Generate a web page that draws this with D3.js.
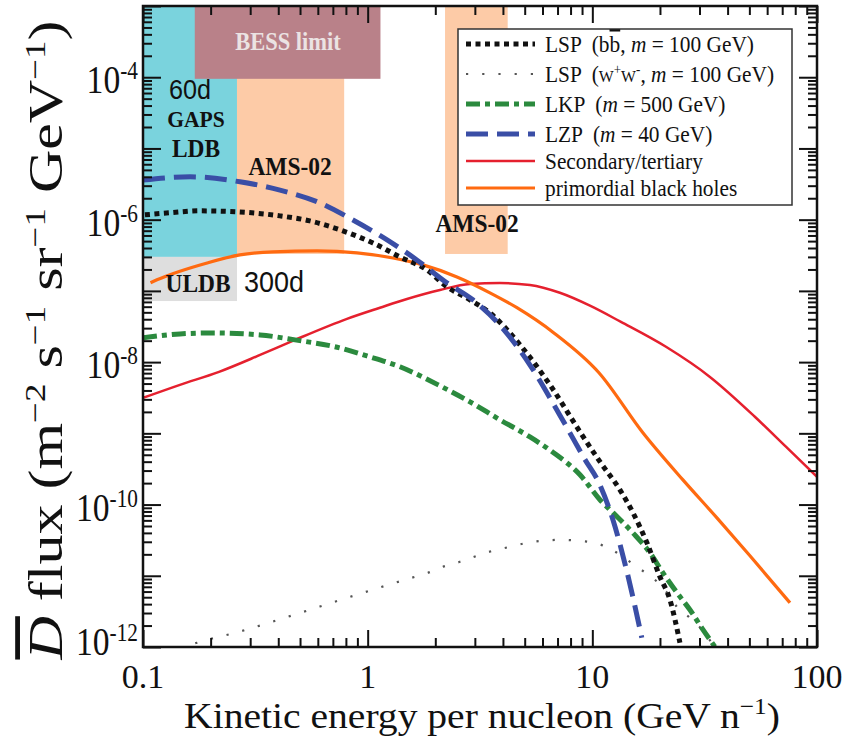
<!DOCTYPE html>
<html>
<head>
<meta charset="utf-8">
<script src="https://cdn.jsdelivr.net/npm/d3@7"></script>
<style>
  body { margin: 0; background: #fff; }
  text { font-family: "Liberation Serif", "Times New Roman", serif; fill: #111; }
  .sans { font-family: "Liberation Sans", Arial, sans-serif; }
</style>
</head>
<body>
<div id="chart-area"></div>
<script>

let margin = {top: 6, right: 39, bottom: 108, left: 143};
let width = 856 - margin.left - margin.right;
let height = 755 - margin.top - margin.bottom;

// kinetic energy per nucleon (GeV/n) and antideuteron flux
let lspBbE = [0.102, 0.132, 0.179, 0.262, 0.407, 0.553, 0.753, 1.056, 1.392, 1.836, 2.254, 2.853, 3.502, 4.762, 6.475, 8.81, 10.81, 13.27, 15.16, 17.5, 19.99, 22.15, 24.54];
let lspBbF = [1.17e-6, 1.25e-6, 1.33e-6, 1.29e-6, 1.13e-6, 9.6e-7, 7.2e-7, 4.7e-7, 3.0e-7, 1.97e-7, 1.14e-7, 7.5e-8, 4.9e-8, 1.75e-8, 4.8e-9, 1.05e-9, 4.0e-10, 1.61e-10, 7.7e-11, 2.9e-11, 9.7e-12, 4.6e-12, 1.15e-12];

let lspWwE = [0.146, 0.174, 0.27, 0.407, 0.613, 0.924, 1.574, 1.855, 2.163, 2.575, 3.065, 3.611, 4.298, 5.115, 6.028, 7.32, 8.63, 10.27, 12.22, 14.26, 16.28, 18.99, 21.48, 23.79, 27.19, 30.75, 34.42];
let lspWwF = [9.5e-13, 1.15e-12, 1.65e-12, 2.45e-12, 3.7e-12, 5.6e-12, 9.4e-12, 1.1e-11, 1.34e-11, 1.57e-11, 1.91e-11, 2.25e-11, 2.55e-11, 2.9e-11, 3.1e-11, 3.2e-11, 3.1e-11, 2.9e-11, 2.32e-11, 1.68e-11, 1.25e-11, 8.8e-12, 5.8e-12, 3.67e-12, 2.57e-12, 1.75e-12, 1.08e-12];

let lkpE = [0.1, 0.146, 0.209, 0.332, 0.475, 0.753, 0.993, 1.392, 2.141, 2.853, 3.879, 5.276, 6.745, 8.81, 10.81, 12.35, 15.16, 18.05, 20.62, 23.79, 27.19, 31.07, 35.13];
let lkpF = [2.19e-8, 2.49e-8, 2.57e-8, 2.41e-8, 2.05e-8, 1.58e-8, 1.22e-8, 8.6e-9, 4.5e-9, 2.77e-9, 1.55e-9, 8.9e-10, 5.3e-10, 2.62e-10, 1.17e-10, 7.7e-11, 4.0e-11, 2.1e-11, 1.1e-11, 5.8e-12, 3.33e-12, 1.75e-12, 1.01e-12];

let lzpE = [0.1, 0.162, 0.27, 0.407, 0.613, 0.86, 1.22, 1.66, 2.25, 2.94, 3.88, 5.28, 7.17, 9.27, 10.8, 12.35, 14.3, 16.6];
let lzpF = [3.6e-6, 4.0e-6, 3.4e-6, 2.6e-6, 1.72e-6, 9.9e-7, 5.2e-7, 2.7e-7, 1.3e-7, 7.5e-8, 3.3e-8, 9.1e-9, 1.8e-9, 4.3e-10, 1.9e-10, 6.1e-11, 1.1e-11, 1.35e-12];

let secE = [0.1, 0.146, 0.218, 0.332, 0.475, 0.809, 1.134, 1.496, 2.097, 2.853, 3.879, 5.276, 7.17, 9.76, 13.41, 21.27, 33.38, 52.9, 72.7, 100];
let secF = [3.15e-9, 4.8e-9, 7.3e-9, 1.26e-8, 2.05e-8, 4.05e-8, 5.8e-8, 7.7e-8, 1.03e-7, 1.25e-7, 1.29e-7, 1.21e-7, 9.4e-8, 6.2e-8, 3.67e-8, 1.64e-8, 6.2e-9, 1.71e-9, 6.5e-10, 2.45e-10];

let pbhE = [0.108, 0.1154, 0.193, 0.27, 0.379, 0.595, 0.896, 1.296, 1.763, 2.497, 3.502, 4.617, 6.745, 10.7, 16.79, 25.31, 35.86, 50.3, 75.8];
let pbhF = [1.3e-7, 1.43e-7, 2.47e-7, 3.2e-7, 3.53e-7, 3.64e-7, 3.42e-7, 2.9e-7, 2.32e-7, 1.57e-7, 9.4e-8, 5.8e-8, 2.57e-8, 7.1e-9, 1.02e-9, 2.22e-10, 6.5e-11, 1.91e-11, 4.18e-12];

// experiment sensitivity regions
let regionNames = ["GAPS LDB", "GAPS ULDB", "AMS-02 low", "AMS-02 high", "BESS limit"];
let regionE0 = [0.1, 0.1, 0.262, 2.21, 0.17];
let regionE1 = [0.262, 0.262, 0.786, 4.2, 1.14];
let regionF0 = [3.0e-7, 7.2e-8, 3.3e-7, 3.3e-7, 9.5e-5];
let regionF1 = [1e-3, 3.0e-7, 1e-3, 1e-3, 1e-3];

let xTickLabels = ["0.1", "1", "10", "100"];
let yTickExps = [-4, -6, -8, -10, -12];

let regionColor = {"GAPS LDB": "#7ad3dd", "GAPS ULDB": "#dedede", "AMS-02 low": "#fdcba7", "AMS-02 high": "#fdcba7", "BESS limit": "#b98189"};

let root = d3.select("#chart-area").append("svg")
    .attr("width", 856)
    .attr("height", 755);

let svg = root.append("g")
    .attr("transform", "translate(" + margin.left + "," + margin.top + ")");

let x = d3.scaleLog().domain([0.1, 100]).range([0, width]);
let y = d3.scaleLog().domain([1e-12, 1e-3]).range([height, 0]);

svg.append("clipPath").attr("id", "plot-clip")
    .append("rect").attr("width", width).attr("height", height);

let regions = regionNames.map((n, i) => ({name: n, e0: regionE0[i], e1: regionE1[i], f0: regionF0[i], f1: regionF1[i]}));

svg.selectAll("rect.region")
    .data(regions)
    .enter().append("rect")
    .attr("class", "region")
    .attr("x", d => x(d.e0))
    .attr("y", d => y(d.f1))
    .attr("width", d => x(d.e1) - x(d.e0))
    .attr("height", d => y(d.f0) - y(d.f1))
    .attr("fill", d => regionColor[d.name]);

// text squeezed horizontally a little, like the original figure
function narrowText(parent, px, py, sx, rot) {
    return parent.append("text")
        .attr("transform", "translate(" + px + "," + py + ") scale(" + sx + ",1)" + (rot ? " rotate(" + rot + ")" : ""));
}

function note(txt, px, py, size, cls, fill, weight) {
    narrowText(root, px, py, 0.9)
        .attr("class", cls || null)
        .attr("text-anchor", "middle")
        .style("font-size", size + "px")
        .style("font-weight", weight || "bold")
        .style("fill", fill || "#111")
        .text(txt);
}
note("BESS limit", 288, 50, 25, null, "#ebe3e3");
note("60d", 190, 99, 28, "sans", "#111", "normal");
note("GAPS", 196, 127, 24);
note("LDB", 196, 157, 26);
note("AMS-02", 290, 175, 26);
note("AMS-02", 477, 232, 26);
note("ULDB", 198, 292, 26);
note("300d", 274, 292, 30, "sans", "#111", "normal");

let series = [
    {key: "sec", E: secE, F: secF, color: "#e5202e", w: 2.5, dash: null},
    {key: "pbh", E: pbhE, F: pbhF, color: "#ff6a10", w: 3.2, dash: null},
    {key: "ww", E: lspWwE, F: lspWwF, color: "#555", w: 2.2, dash: "2.2,14"},
    {key: "lkp", E: lkpE, F: lkpF, color: "#2b8a3e", w: 5, dash: "14,5,5,5"},
    {key: "bb", E: lspBbE, F: lspBbF, color: "#111", w: 5, dash: "5,4.5"},
    {key: "lzp", E: lzpE, F: lzpF, color: "#3a4ea6", w: 5, dash: "22,9"}
];

let line = d3.line()
    .x(d => x(d[0]))
    .y(d => y(d[1]))
    .curve(d3.curveMonotoneX);

svg.append("g").attr("clip-path", "url(#plot-clip)")
    .selectAll("path.curve")
    .data(series)
    .enter().append("path")
    .attr("class", "curve")
    .attr("d", d => line(d.E.map((e, i) => [e, d.F[i]])))
    .attr("fill", "none")
    .attr("stroke", d => d.color)
    .attr("stroke-width", d => d.w)
    .attr("stroke-dasharray", d => d.dash);

// axes: ticks inward on all four sides
let xMinor = [], yMinor = [];
[0.1, 1, 10].forEach(dec => d3.range(2, 10).forEach(k => xMinor.push(k * dec)));
d3.range(-12, -3).forEach(p => d3.range(2, 10).forEach(k => yMinor.push(k * Math.pow(10, p))));
let xMajor = [0.1, 1, 10, 100];
let yMajor = d3.range(-12, -2).map(p => Math.pow(10, p));

function tickAxis(gen, vals, len, tr) {
    let g = svg.append("g").attr("transform", tr)
        .call(gen.tickValues(vals).tickSize(-len).tickFormat(""));
    g.select(".domain").remove();
    g.selectAll(".tick line").attr("stroke", "#111").attr("stroke-width", 2);
}
tickAxis(d3.axisBottom(x), xMinor, 9, "translate(0," + height + ")");
tickAxis(d3.axisBottom(x), xMajor, 17, "translate(0," + height + ")");
tickAxis(d3.axisTop(x), xMinor, 9, "translate(0,0)");
tickAxis(d3.axisTop(x), xMajor, 17, "translate(0,0)");
tickAxis(d3.axisLeft(y), yMinor, 9, "translate(0,0)");
tickAxis(d3.axisLeft(y), yMajor, 18, "translate(0,0)");
tickAxis(d3.axisRight(y), yMinor, 9, "translate(" + width + ",0)");
tickAxis(d3.axisRight(y), yMajor, 18, "translate(" + width + ",0)");

svg.append("rect")
    .attr("width", width).attr("height", height)
    .attr("fill", "none").attr("stroke", "#111").attr("stroke-width", 2.5);

// tick labels
svg.selectAll("text.xlab")
    .data(xTickLabels)
    .enter().append("text")
    .attr("class", "xlab")
    .attr("x", d => x(+d))
    .attr("y", height + 41)
    .attr("text-anchor", "middle")
    .style("font-size", "34px")
    .text(d => d);

yTickExps.forEach(function(d) {
    let t = narrowText(svg, -5, Math.min(y(Math.pow(10, d)) + 16, height + 8), 0.82)
        .attr("text-anchor", "end")
        .style("font-size", "41px");
    t.append("tspan").text("10");
    t.append("tspan").attr("dy", -14).style("font-size", "26px").text(String(d));
});

// axis titles
let xt = narrowText(root, 482, 728, 1.1)
    .attr("text-anchor", "middle")
    .style("font-size", "36px");
xt.append("tspan").text("Kinetic energy per nucleon (GeV n");
xt.append("tspan").attr("dy", -14).style("font-size", "23px").text("\u22121");
xt.append("tspan").attr("dy", 14).text(")");

let yt = narrowText(root, 62, 340, 0.8, -90)
    .attr("text-anchor", "middle")
    .style("font-size", "60px");
yt.append("tspan").style("font-style", "italic").style("text-decoration", "overline").text("D");
yt.append("tspan").text(" flux (m");
let units = [["\u22122", " s"], ["\u22121", " sr"], ["\u22121", " GeV"], ["\u22121", ")"]];
units.forEach(function(u) {
    yt.append("tspan").attr("dy", -21).style("font-size", "37px").text(u[0]);
    yt.append("tspan").attr("dy", 21).text(u[1]);
});

// legend
let legendRows = [
    {key: "bb", parts: [["LSP  (b"], ["b", "over"], [", "], ["m", "it"], [" = 100 GeV)"]]},
    {key: "ww", parts: [["LSP  ("], ["W", "small"], ["+", "sup"], ["W", "small"], ["-", "sup"], [", "], ["m", "it"], [" = 100 GeV)"]]},
    {key: "lkp", parts: [["LKP  ("], ["m", "it"], [" = 500 GeV)"]]},
    {key: "lzp", parts: [["LZP  ("], ["m", "it"], [" = 40 GeV)"]]},
    {key: "sec", parts: [["Secondary/tertiary"]]},
    {key: "pbh", parts: [["primordial black holes"]]}
];
let legendY = [44, 74, 104, 134, 161, 188];

root.append("rect")
    .attr("x", 458).attr("y", 29)
    .attr("width", 334).attr("height", 176)
    .attr("fill", "#fff").attr("stroke", "#333").attr("stroke-width", 1.5);

legendRows.forEach(function(r, i) {
    let s = series.find(d => d.key === r.key);
    root.append("line")
        .attr("x1", 466).attr("x2", 535)
        .attr("y1", legendY[i]).attr("y2", legendY[i])
        .attr("stroke", s.color)
        .attr("stroke-width", s.w)
        .attr("stroke-dasharray", s.dash);
    let t = narrowText(root, 545, legendY[i] + 8, 0.93)
        .style("font-size", "23px")
        .style("white-space", "pre");
    let raised = false;
    r.parts.forEach(function(p) {
        let sp = t.append("tspan").text(p[0]);
        if (p[1] === "it") sp.style("font-style", "italic");
        if (p[1] === "over") sp.style("text-decoration", "overline");
        if (p[1] === "small") sp.style("font-size", "17px");
        if (p[1] === "sup") { sp.attr("dy", -8).style("font-size", "14px"); raised = true; }
        else if (raised) { sp.attr("dy", 8); raised = false; }
    });
});

</script>
</body>
</html>
